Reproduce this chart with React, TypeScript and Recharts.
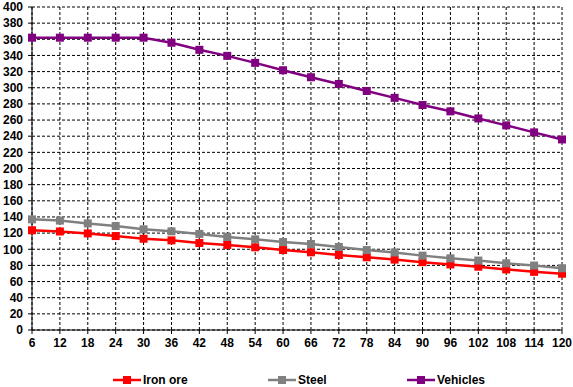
import React from 'react';
import { LineChart, Line, XAxis, YAxis, CartesianGrid, Legend } from 'recharts';

const months = [6, 12, 18, 24, 30, 36, 42, 48, 54, 60, 66, 72, 78, 84, 90, 96, 102, 108, 114, 120];
const ironOre = [123.5, 122, 119.6, 116.3, 113, 111, 107.7, 105.3, 102.4, 99, 96.2, 92.9, 90, 87.2, 84, 81.2, 78.4, 75, 72, 69.7];
const steel = [137, 135.5, 132, 128.8, 124.7, 122.2, 119, 115.2, 112.3, 109, 106.5, 102.8, 99, 96, 92.1, 88.8, 86, 82.6, 79.8, 76.5];
const vehicles = [362, 362, 362, 362, 362, 355.7, 347, 339.5, 330.8, 321.7, 313, 304.7, 296, 287.5, 278.6, 270.8, 262, 253.4, 244.7, 236];
const yTicks = [0, 20, 40, 60, 80, 100, 120, 140, 160, 180, 200, 220, 240, 260, 280, 300, 320, 340, 360, 380, 400];

const series = [
  { key: 'iron', name: 'Iron ore', color: '#FF0000', values: ironOre },
  { key: 'steel', name: 'Steel', color: '#808080', values: steel },
  { key: 'vehicles', name: 'Vehicles', color: '#800080', values: vehicles },
];

const data = months.map((m, i) => ({
  month: m,
  iron: ironOre[i],
  steel: steel[i],
  vehicles: vehicles[i],
}));

const font = '"Liberation Sans", Arial, sans-serif';

const squareDot = (color: string) => (props: any) => {
  const { cx, cy, index } = props;
  if (cx == null || cy == null) return <g key={index} />;
  return <rect key={index} x={cx - 4} y={cy - 4} width={8} height={8} fill={color} />;
};

const itemWidths = [155, 139, 90];

const renderLegend = () => (
  <div style={{ display: 'flex', paddingLeft: 113, fontFamily: font, fontWeight: 'bold', fontSize: 12, color: '#000' }}>
    {series.map((s, i) => (
      <div key={s.key} style={{ width: itemWidths[i], display: 'flex', alignItems: 'center' }}>
        <svg width={28} height={10} style={{ marginRight: 2 }}>
          <line x1={0} y1={5} x2={28} y2={5} stroke={s.color} strokeWidth={2.5} />
          <rect x={10} y={1} width={8} height={8} fill={s.color} />
        </svg>
        <span>{s.name}</span>
      </div>
    ))}
  </div>
);

export default function App() {
  return (
    <div style={{ position: 'fixed', left: 0, top: 0, width: 573, height: 387, background: '#fff' }}>
      <LineChart width={573} height={387} data={data} margin={{ top: 7, right: 11, left: 0, bottom: 5 }}>
        <CartesianGrid stroke="#000" strokeDasharray="3 2" />
        <XAxis
          dataKey="month"
          interval={0}
          height={22}
          stroke="#000"
          tickSize={4}
          tickMargin={4}
          tick={{ fill: '#000', fontSize: 12, fontWeight: 'bold', fontFamily: font }}
        />
        <YAxis
          domain={[0, 400]}
          ticks={yTicks}
          interval={0}
          width={32}
          stroke="#000"
          tickSize={4}
          tickMargin={5}
          tick={{ fill: '#000', fontSize: 12, fontWeight: 'bold', fontFamily: font }}
        />
        <Legend
          verticalAlign="bottom"
          height={30}
          content={renderLegend}
          wrapperStyle={{ top: 373, bottom: 'auto', left: 0, width: 573 }}
        />
        {series.map((s) => (
          <Line
            key={s.key}
            type="linear"
            dataKey={s.key}
            name={s.name}
            stroke={s.color}
            strokeWidth={2.5}
            dot={squareDot(s.color)}
            activeDot={false}
            isAnimationActive={false}
          />
        ))}
      </LineChart>
    </div>
  );
}
